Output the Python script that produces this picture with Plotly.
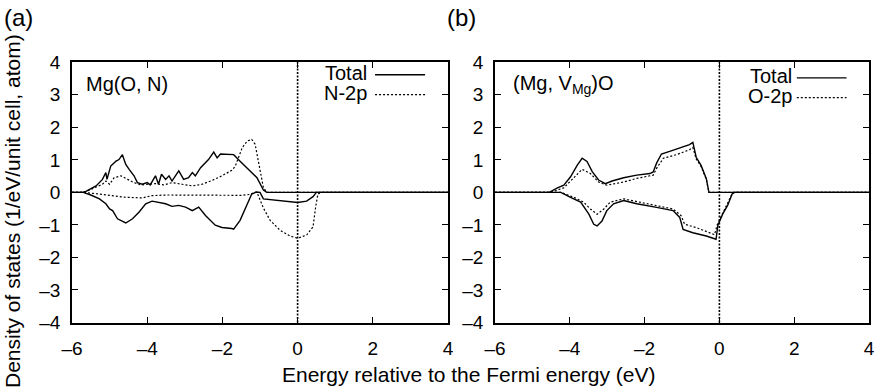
import plotly.graph_objects as go

# ---------------- data ----------------
# Panel (a): Mg(O, N)
a_total_up_E = [-6, -5.72, -5.63, -5.36, -5.19, -5.10, -5.07, -4.97, -4.83, -4.75, -4.66, -4.57, -4.48, -4.35,
                -4.26, -4.13, -4.00, -3.92, -3.78, -3.70, -3.62, -3.51, -3.42, -3.34, -3.25, -3.16, -3.03,
                -2.90, -2.80, -2.72, -2.58, -2.45, -2.37, -2.23, -2.14, -2.05, -1.95, -1.84, -1.70, -1.53,
                -1.26, -1.08, -0.91, -0.82, 4]
a_total_up = [0, 0, 0.03, 0.20, 0.40, 0.61, 0.40, 0.81, 0.96, 1.01, 1.16, 0.86, 0.71, 0.51,
              0.30, 0.25, 0.30, 0.23, 0.51, 0.25, 0.56, 0.40, 0.51, 0.35, 0.51, 0.66, 0.40,
              0.45, 0.61, 0.51, 0.76, 0.91, 1.01, 1.24, 1.06, 1.18, 1.17, 1.16, 1.16, 0.96,
              0.66, 0.45, 0.07, 0, 0]

a_total_dn_E = [-6, -5.70, -5.50, -5.27, -5.10, -5.00, -4.92, -4.79, -4.57, -4.39, -4.22, -4.04, -3.87,
                -3.69, -3.51, -3.34, -3.16, -2.98, -2.80, -2.63, -2.45, -2.19, -2.01, -1.75, -1.70,
                -1.53, -1.31, -1.22, -1.10, -1.00, -0.91, -0.65, -0.30, 0.00, 0.24, 0.41, 0.50, 4]
a_total_dn = [0, 0, -0.08, -0.20, -0.35, -0.51, -0.56, -0.81, -0.94, -0.81, -0.61, -0.35, -0.27,
              -0.30, -0.35, -0.43, -0.40, -0.45, -0.56, -0.45, -0.71, -1.01, -1.08, -1.11, -1.13,
              -0.86, -0.30, -0.05, 0.01, 0.0, -0.20, -0.23, -0.27, -0.31, -0.27, -0.13, 0, 0]

a_n2p_up_E = [-6, -5.70, -5.54, -5.36, -5.19, -5.10, -5.00, -4.88, -4.70, -4.52, -4.35, -4.17, -4.00,
              -3.78, -3.56, -3.34, -3.07, -2.80, -2.54, -2.27, -2.01, -1.75, -1.66, -1.58, -1.47,
              -1.34, -1.22, -1.13, -1.04, -0.97, -0.91, -0.82, 4]
a_n2p_up = [0, 0, 0.07, 0.15, 0.25, 0.35, 0.25, 0.45, 0.51, 0.40, 0.30, 0.23, 0.25,
            0.27, 0.23, 0.30, 0.25, 0.20, 0.25, 0.37, 0.51, 0.68, 0.80, 1.02, 1.38,
            1.58, 1.63, 1.48, 0.90, 0.45, 0.15, 0, 0]

a_n2p_dn_E = [-6, -5.70, -5.44, -4.99, -4.57, -4.13, -3.87, -3.50, -2.80, -2.00, -1.47, -1.25, -1.16,
              -1.08, -1.00, -0.91, -0.73, -0.47, -0.20, 0.00, 0.24, 0.41, 0.48, 0.54, 0.62, 4]
a_n2p_dn = [0, 0, -0.03, -0.10, -0.15, -0.17, -0.10, -0.08, -0.08, -0.09, -0.09, -0.06, 0,
            0, -0.25, -0.48, -0.86, -1.16, -1.34, -1.41, -1.31, -1.06, -0.45, -0.05, 0, 0]

# Panel (b): (Mg, V_Mg)O
b_total_up_E = [-6, -4.55, -4.33, -4.16, -3.98, -3.80, -3.67, -3.54, -3.40, -3.23, -3.05, -2.87, -2.56,
                -2.21, -1.86, -1.77, -1.68, -1.55, -1.33, -1.06, -0.80, -0.71, -0.62, -0.49, -0.35,
                -0.28, 4]
b_total_up = [0, 0, 0.14, 0.22, 0.48, 0.84, 1.05, 0.95, 0.64, 0.38, 0.27, 0.35, 0.45,
              0.53, 0.58, 0.63, 0.90, 1.18, 1.26, 1.36, 1.47, 1.54, 1.08, 0.83, 0.42,
              0, 0]

b_o2p_up_E = [-6, -4.51, -4.16, -3.89, -3.67, -3.45, -3.23, -3.01, -2.56, -2.21, -1.77, -1.68, -1.50,
              -1.15, -0.80, -0.71, -0.62, -0.49, -0.35, -0.28, 4]
b_o2p_up = [0, 0, 0.14, 0.45, 0.71, 0.58, 0.32, 0.22, 0.32, 0.43, 0.53, 0.74, 1.05,
            1.16, 1.31, 1.38, 1.03, 0.80, 0.40, 0, 0]

b_total_dn_E = [-6, -4.24, -3.98, -3.71, -3.49, -3.36, -3.27, -3.14, -3.01, -2.83, -2.56, -2.21, -1.68,
                -1.24, -1.06, -0.97, -0.71, -0.35, -0.09, -0.04, 0.09, 0.22, 0.34, 0.40, 4]
b_total_dn = [0, 0, -0.15, -0.30, -0.67, -0.98, -1.03, -0.88, -0.56, -0.35, -0.25, -0.35, -0.46,
              -0.56, -0.77, -1.14, -1.24, -1.34, -1.44, -1.01, -0.66, -0.40, -0.05, 0, 0]

b_o2p_dn_E = [-6, -4.24, -3.89, -3.63, -3.45, -3.27, -3.09, -2.92, -2.56, -2.12, -1.68, -1.24, -1.02,
              -0.93, -0.62, -0.35, -0.13, -0.06, 0.09, 0.22, 0.34, 0.40, 4]
b_o2p_dn = [0, 0, -0.15, -0.30, -0.51, -0.67, -0.51, -0.30, -0.20, -0.30, -0.40, -0.51, -0.72,
            -0.98, -1.08, -1.19, -1.30, -1.00, -0.64, -0.38, -0.04, 0, 0]

x_ticks = [-6, -4, -2, 0, 2, 4]
x_ticktext = ["\u20136", "\u20134", "\u20132", "0", "2", "4"]
y_ticks = [-4, -3, -2, -1, 0, 1, 2, 3, 4]
y_ticktext = ["\u20134", "\u20133", "\u20132", "\u20131", "0", "1", "2", "3", "4"]

panel_labels = ["(a)", "(b)"]
system_labels = ["Mg(O, N)", "(Mg, V<sub>Mg</sub>)O"]
legend_names = [["Total", "N-2p"], ["Total", "O-2p"]]
x_title = "Energy relative to the Fermi energy (eV)"
y_title = "Density of states (1/eV/unit cell, atom)"

# ---------------- figure ----------------
FONT = "Liberation Sans, Arial, sans-serif"
SOLID = dict(color="black", width=1.4)
DOTTED = dict(color="black", width=1.2, dash="2px,2px")

fig = go.Figure()

def add(xs, ys, line, ax):
    fig.add_trace(go.Scatter(x=xs, y=ys, mode="lines", line=line, showlegend=False,
                             xaxis="x" if ax == 1 else "x2", yaxis="y" if ax == 1 else "y2",
                             hoverinfo="skip"))

add(a_n2p_up_E, a_n2p_up, DOTTED, 1)
add(a_n2p_dn_E, a_n2p_dn, DOTTED, 1)
add(a_total_up_E, a_total_up, SOLID, 1)
add(a_total_dn_E, a_total_dn, SOLID, 1)
add(b_o2p_up_E, b_o2p_up, DOTTED, 2)
add(b_o2p_dn_E, b_o2p_dn, DOTTED, 2)
add(b_total_up_E, b_total_up, SOLID, 2)
add(b_total_dn_E, b_total_dn, SOLID, 2)

W, H = 883, 392
xa_dom = [72 / W, 448 / W]
xb_dom = [495 / W, 869 / W]
y_dom = [1 - 322.5 / H, 1 - 62.3 / H]

common_x = dict(range=[-6, 4], tickvals=x_ticks, ticktext=x_ticktext, ticks="inside", ticklen=6,
                tickwidth=1.2, tickcolor="black", showline=True, linecolor="black", linewidth=1.5,
                mirror="ticks", showgrid=False, zeroline=False, automargin=False,
                tickfont=dict(family=FONT, size=19, color="black"), ticklabelstandoff=8)
common_y = dict(range=[-4, 4], tickvals=y_ticks, ticktext=y_ticktext, ticks="inside", ticklen=6,
                tickwidth=1.2, tickcolor="black", showline=True, linecolor="black", linewidth=1.5,
                mirror="ticks", showgrid=False, zeroline=False, domain=y_dom, automargin=False,
                tickfont=dict(family=FONT, size=19, color="black"), ticklabelstandoff=6)

fig.update_layout(
    width=W, height=H, margin=dict(l=0, r=0, t=0, b=0, autoexpand=False),
    paper_bgcolor="white", plot_bgcolor="white",
    xaxis=dict(domain=xa_dom, anchor="y", **common_x),
    yaxis=dict(anchor="x", **common_y),
    xaxis2=dict(domain=xb_dom, anchor="y2", **common_x),
    yaxis2=dict(anchor="x2", **common_y),
)

# Fermi level lines
for xr, yr in [("x", "y"), ("x2", "y2")]:
    fig.add_shape(type="line", xref=xr, yref=yr + " domain", x0=0, x1=0, y0=0, y1=1,
                  line=dict(color="black", width=1.6, dash="2px,1.5px"))

anns = []
# panel labels
anns.append(dict(text=panel_labels[0], xref="paper", yref="paper", x=3 / W, y=1 - 17 / H,
                 xanchor="left", yanchor="middle", showarrow=False, borderpad=0,
                 font=dict(family=FONT, size=24, color="black")))
anns.append(dict(text=panel_labels[1], xref="paper", yref="paper", x=446 / W, y=1 - 17 / H,
                 xanchor="left", yanchor="middle", showarrow=False, borderpad=0,
                 font=dict(family=FONT, size=24, color="black")))
# system labels
anns.append(dict(text=system_labels[0], xref="x domain", yref="y domain", x=0.033, y=0.915,
                 xanchor="left", yanchor="middle", showarrow=False,
                 font=dict(family=FONT, size=20, color="black")))
anns.append(dict(text=system_labels[1], xref="x2 domain", yref="y2 domain", x=0.043, y=0.915,
                 xanchor="left", yanchor="middle", showarrow=False,
                 font=dict(family=FONT, size=20, color="black")))
# legends (text left, sample line right)
leg = [("x", "y", 0.787, 0.806, 0.939, [0.952, 0.876]),
       ("x2", "y2", 0.797, 0.807, 0.940, [0.940, 0.864])]
for i, (xr, yr, xt, l0, l1, ys) in enumerate(leg):
    for j, yy in enumerate(ys):
        anns.append(dict(text=legend_names[i][j], xref=xr + " domain", yref=yr + " domain",
                         x=xt, y=yy + 0.006, xanchor="right", yanchor="middle", showarrow=False,
                         borderpad=0, font=dict(family=FONT, size=20, color="black")))
        fig.add_shape(type="line", xref=xr + " domain", yref=yr + " domain", x0=l0, x1=l1,
                      y0=yy, y1=yy, line=SOLID if j == 0 else DOTTED)
# axis titles
anns.append(dict(text=x_title, xref="paper", yref="paper", x=468.5 / W, y=1 - 374 / H,
                 xanchor="center", yanchor="middle", showarrow=False,
                 font=dict(family=FONT, size=21, color="black")))
anns.append(dict(text=y_title, xref="paper", yref="paper", x=13 / W, y=1 - 211 / H,
                 xanchor="center", yanchor="middle", showarrow=False, textangle=-90,
                 font=dict(family=FONT, size=21, color="black")))
fig.update_layout(annotations=anns)

fig.write_html("out.html")
